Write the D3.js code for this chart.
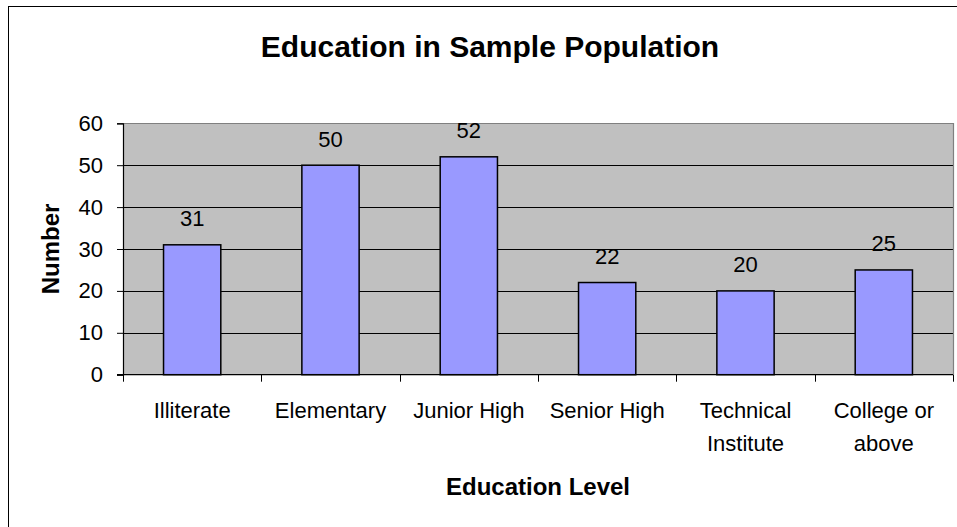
<!DOCTYPE html>
<html>
<head>
<meta charset="utf-8">
<script src="https://cdn.jsdelivr.net/npm/d3@7"></script>
<style>
  html, body { margin: 0; padding: 0; background: #fff; }
  svg { display: block; font-family: Arial, "Liberation Sans", sans-serif; }
</style>
</head>
<body>
<svg id="chart" width="957" height="527"></svg>
<script>
const categories = [["Illiterate"], ["Elementary"], ["Junior High"], ["Senior High"], ["Technical", "Institute"], ["College or", "above"]];
const values = [31, 50, 52, 22, 20, 25];
const yTicks = [0, 10, 20, 30, 40, 50, 60];
const titleText = "Education in Sample Population";
const xTitle = "Education Level";
const yTitle = "Number";

const svg = d3.select("#chart");
const plot = { left: 123, right: 953, top: 123.3, bottom: 374.7 };

// outer chart border (extends past the viewport on right/bottom)
svg.append("rect").attr("x", 8.5).attr("y", 6.5).attr("width", 1200).attr("height", 1200)
  .attr("fill", "#fff").attr("stroke", "#000").attr("stroke-width", 1);

const keys = categories.map((c, i) => i);
const x = d3.scaleBand().domain(keys).range([plot.left, plot.right]).padding(0);
const y = d3.scaleLinear().domain([0, 60]).range([plot.bottom, plot.top]);

// plot background
svg.append("rect").attr("x", plot.left).attr("y", plot.top)
  .attr("width", plot.right - plot.left).attr("height", plot.bottom - plot.top)
  .attr("fill", "#C0C0C0");

// gridlines
svg.append("g").selectAll("line").data(yTicks.filter(t => t > 0 && t < 60)).join("line")
  .attr("x1", plot.left).attr("x2", plot.right)
  .attr("y1", d => Math.round(y(d)) + 0.5).attr("y2", d => Math.round(y(d)) + 0.5)
  .attr("stroke", "#000").attr("stroke-width", 1);

// plot border top/right (gray)
svg.append("path")
  .attr("d", `M${plot.left},${Math.round(plot.top) + 0.5}H${plot.right + 0.5}V${plot.bottom}`)
  .attr("fill", "none").attr("stroke", "#808080").attr("stroke-width", 1.2);

// bars
const barFrac = 0.414;
const bw = x.bandwidth() * barFrac;
svg.append("g").selectAll("rect").data(values).join("rect")
  .attr("x", (d, i) => x(i) + (x.bandwidth() - bw) / 2)
  .attr("y", d => y(d))
  .attr("width", bw)
  .attr("height", d => y(0) - y(d))
  .attr("fill", "#9999FF").attr("stroke", "#000").attr("stroke-width", 1.5);

// value labels
svg.append("g").selectAll("text").data(values).join("text")
  .attr("x", (d, i) => x(i) + x.bandwidth() / 2)
  .attr("y", d => y(d) - 18.5)
  .attr("text-anchor", "middle").attr("font-size", 22).attr("fill", "#000")
  .text(d => d);

// Y axis
const yAxis = svg.append("g").attr("transform", `translate(${plot.left},0)`)
  .call(d3.axisLeft(y).tickValues(yTicks).tickSize(6).tickPadding(14).tickFormat(d3.format("d")));
yAxis.select(".domain").attr("stroke", "#000").attr("stroke-width", 1.2);
yAxis.selectAll(".tick line").attr("stroke", "#000");
yAxis.selectAll(".tick text").attr("font-size", 22).attr("font-family", "Arial, 'Liberation Sans', sans-serif").attr("fill", "#000");

// X axis
const xAxis = svg.append("g").attr("transform", `translate(0,${plot.bottom})`);
xAxis.append("line").attr("x1", plot.left - 6).attr("x2", plot.right)
  .attr("y1", 0).attr("y2", 0).attr("stroke", "#000").attr("stroke-width", 1.2);
const boundaries = keys.map(k => x(k)).concat([x(keys[keys.length - 1]) + x.bandwidth()]);
xAxis.selectAll("line.tk").data(boundaries).join("line").attr("class", "tk")
  .attr("x1", d => Math.round(d) + 0.5).attr("x2", d => Math.round(d) + 0.5)
  .attr("y1", 0).attr("y2", 7).attr("stroke", "#000");

// category labels
const catG = svg.append("g");
categories.forEach((lines, i) => {
  const t = catG.append("text")
    .attr("x", x(i) + x.bandwidth() / 2)
    .attr("y", 418)
    .attr("text-anchor", "middle").attr("font-size", 22).attr("fill", "#000");
  lines.forEach((ln, j) => {
    t.append("tspan").attr("x", x(i) + x.bandwidth() / 2).attr("dy", j === 0 ? 0 : 33).text(ln);
  });
});

// titles
svg.append("text").attr("x", 490).attr("y", 57).attr("text-anchor", "middle")
  .attr("font-size", 30).attr("font-weight", "bold").text(titleText);
svg.append("text").attr("x", 538).attr("y", 495).attr("text-anchor", "middle")
  .attr("font-size", 24).attr("font-weight", "bold").text(xTitle);
svg.append("text").attr("transform", "translate(59,249) rotate(-90)").attr("text-anchor", "middle")
  .attr("font-size", 24).attr("font-weight", "bold").text(yTitle);
</script>
</body>
</html>
